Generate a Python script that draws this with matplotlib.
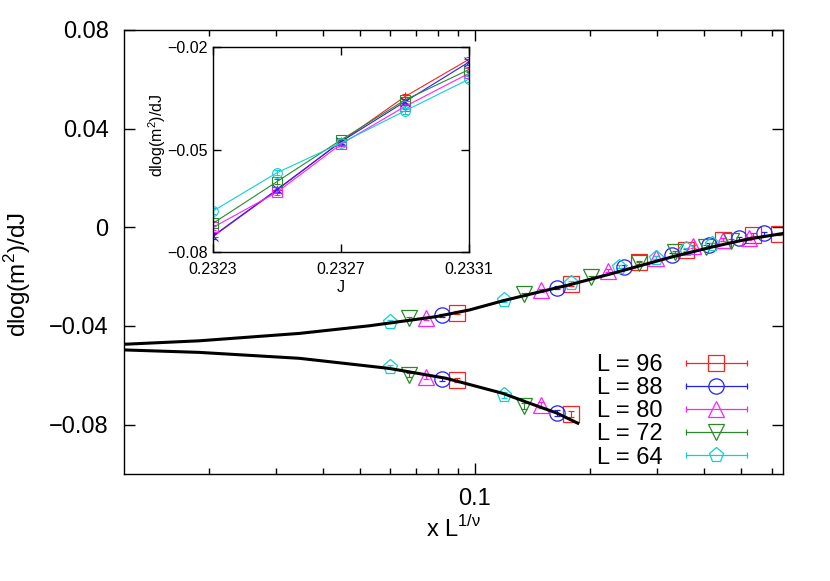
import numpy as np
import matplotlib
matplotlib.use("Agg")
import matplotlib.pyplot as plt
from matplotlib.lines import Line2D
from matplotlib.legend_handler import HandlerLine2D
from matplotlib.ticker import LogLocator, NullFormatter, FixedLocator, FixedFormatter

plt.rcParams['font.family'] = ['Liberation Sans', 'DejaVu Sans']
plt.rcParams['mathtext.fontset'] = 'custom'
plt.rcParams['mathtext.rm'] = 'Liberation Sans'
plt.rcParams['axes.linewidth'] = 1.0

# ---- datos principales (colapso) ----
L_vals = [96, 88, 80, 72, 64]
colores = ['#ff2020', '#2020ff', '#ff20ff', '#2a8a2a', '#10d0d0']
marcas = ['s', 'o', '^', 'v', 'p']

x_sup = {
    96: [0.0896, 0.1791, 0.2687, 0.3582, 0.4478, 0.5373, 0.6269],
    88: [0.0821, 0.1642, 0.2463, 0.3284, 0.4105, 0.4926, 0.5746],
    80: [0.0746, 0.1493, 0.2239, 0.2985, 0.3731, 0.4478, 0.5224],
    72: [0.0672, 0.1344, 0.2015, 0.2687, 0.3358, 0.4030, 0.4701],
    64: [0.0597, 0.1194, 0.1791, 0.2388, 0.2985, 0.3582, 0.4179],
}
y_sup = {
    96: [-0.0346, -0.0231, -0.0141, -0.0092, -0.0051, -0.0031, -0.0027],
    88: [-0.0357, -0.0244, -0.0160, -0.0112, -0.0070, -0.0044, -0.0024],
    80: [-0.0369, -0.0256, -0.0176, -0.0124, -0.0076, -0.0051, -0.0044],
    72: [-0.0369, -0.0271, -0.0203, -0.0145, -0.0100, -0.0079, -0.0054],
    64: [-0.0383, -0.0295, -0.0224, -0.0160, -0.0124, -0.0088, -0.0068],
}
e_sup = [0.0006, 0.0006, 0.0006, 0.0006, 0.0006, 0.0006, 0.0006]

x_inf = {
    96: [0.0896, 0.1791],
    88: [0.0821, 0.1642],
    80: [0.0746, 0.1493],
    72: [0.0672, 0.1344],
    64: [0.0597, 0.1194],
}
y_inf = {
    96: [-0.0619, -0.0757],
    88: [-0.0615, -0.0754],
    80: [-0.0608, -0.0720],
    72: [-0.0599, -0.0724],
    64: [-0.0565, -0.0680],
}
e_inf = [0.0008, 0.0012]

# curvas de ajuste
curva_sup_x = [0.01202, 0.01892, 0.03463, 0.0529, 0.0791, 0.0967, 0.1183, 0.1447, 0.177,
               0.2254, 0.3305, 0.4208, 0.5150, 0.643]
curva_sup_y = [-0.0474, -0.0460, -0.0430, -0.0399, -0.0362, -0.0335, -0.0298, -0.0265, -0.0233,
               -0.0190, -0.0119, -0.0079, -0.0049, -0.0025]
curva_inf_x = [0.01202, 0.01892, 0.03463, 0.05965, 0.0840, 0.1183, 0.1390, 0.1634, 0.1861]
curva_inf_y = [-0.0497, -0.0507, -0.0531, -0.0572, -0.0612, -0.0673, -0.0713, -0.0752, -0.0794]

# ---- datos del inset ----
J = [0.2323, 0.2325, 0.2327, 0.2329, 0.2331]
marcas_in = ['+', 'x', 's', 's', 'o']
y_in = {
    96: [-0.0755, -0.0619, -0.0477, -0.0345, -0.0236],
    88: [-0.0753, -0.0617, -0.0477, -0.0360, -0.0244],
    80: [-0.0728, -0.0625, -0.0484, -0.0374, -0.0277],
    72: [-0.0716, -0.0594, -0.0472, -0.0355, -0.0266],
    64: [-0.0680, -0.0568, -0.0481, -0.0387, -0.0294],
}
e_in = [0.0008, 0.0008, 0.0006, 0.0008, 0.0008]

etiqueta_y = 'dlog(m$^{\\mathregular{2}}$)/dJ'
etiqueta_x = 'x L$^{\\mathregular{1/\u03bd}}$'

fig = plt.figure(figsize=(8.3, 5.81), dpi=100)
ax = fig.add_axes([124/830, 1-474/581, 659/830, 444/581])

handles = []
for L, c, m in zip(L_vals, colores, marcas):
    ax.errorbar(x_sup[L], y_sup[L], yerr=e_sup, fmt=m, mfc='none', mec=c, ecolor=c,
                ms=11, mew=0.9, elinewidth=0.8, capsize=2.5, capthick=0.8)
    ax.errorbar(x_inf[L], y_inf[L], yerr=e_inf, fmt=m, mfc='none', mec=c, ecolor=c,
                ms=11, mew=0.9, elinewidth=0.8, capsize=2.5, capthick=0.8)
    barra = Line2D([], [], color=c, lw=0.9, marker='|', ms=5, mew=0.9)
    punto = Line2D([], [], color=c, lw=0, marker=m, ms=11, mfc='none', mew=0.9)
    handles.append((barra, punto))

ax.plot(curva_sup_x, curva_sup_y, color='k', lw=2.2, zorder=5)
ax.plot(curva_inf_x, curva_inf_y, color='k', lw=2.2, zorder=5)

ax.set_xscale('log')
ax.set_xlim(0.012, 0.643)
ax.set_ylim(-0.1, 0.08)
ax.xaxis.set_major_locator(FixedLocator([0.1]))
ax.xaxis.set_major_formatter(FixedFormatter(['0.1']))
ax.xaxis.set_minor_locator(LogLocator(base=10, subs=np.arange(2, 10)))
ax.xaxis.set_minor_formatter(NullFormatter())
ax.set_yticks([-0.08, -0.04, 0, 0.04, 0.08])
ax.set_yticklabels(['\u22120.08', '\u22120.04', '0', '0.04', '0.08'])
ax.tick_params(which='major', direction='in', top=True, right=True, length=8, width=1, labelsize=17)
ax.tick_params(which='minor', direction='in', top=True, right=True, length=4, width=1)
ax.tick_params(axis='y', pad=11)
ax.tick_params(axis='x', pad=10)

ax.set_xlabel(etiqueta_x, fontsize=17)
ax.set_ylabel(etiqueta_y, fontsize=17.5)
ax.xaxis.set_label_coords(0.5, -0.095)
ax.yaxis.set_label_coords(-0.138, 0.45)

labels = ['L = %d' % L for L in L_vals]
hmap = {}
for b, p in handles:
    hmap[b] = HandlerLine2D(numpoints=2)
    hmap[p] = HandlerLine2D(numpoints=1)
leg = ax.legend(handles, labels, handler_map=hmap, loc='lower right',
                bbox_to_anchor=((754-124)/659, 0.012), bbox_transform=ax.transAxes,
                frameon=False, markerfirst=False, fontsize=17, handlelength=3.2,
                handletextpad=0.68, labelspacing=0.05, borderpad=0, borderaxespad=0)

# ---- inset ----
ax2 = fig.add_axes([213/830, 1-252/581, 256/830, 205/581])
for L, c, m in zip(L_vals, colores, marcas_in):
    ax2.errorbar(J, y_in[L], yerr=e_in, marker=m, color=c, mfc='none', mec=c, ecolor=c,
                 ms=7, mew=0.8, lw=0.8, elinewidth=0.7, capsize=2, capthick=0.7)
ax2.set_xlim(0.2323, 0.2331)
ax2.set_ylim(-0.08, -0.02)
ax2.set_xticks([0.2323, 0.2327, 0.2331])
ax2.set_xticklabels(['0.2323', '0.2327', '0.2331'])
ax2.set_yticks([-0.08, -0.05, -0.02])
ax2.set_yticklabels(['\u22120.08', '\u22120.05', '\u22120.02'])
ax2.tick_params(direction='in', top=True, right=True, length=6, width=1, labelsize=11.5, pad=4)
ax2.tick_params(axis='x', pad=7)
ax2.set_xlabel('J', fontsize=11.5)
ax2.set_ylabel(etiqueta_y, fontsize=11.5)
ax2.xaxis.set_label_coords(0.5, -0.135)
ax2.yaxis.set_label_coords(-0.176, 0.571)

fig.savefig('out.png', dpi=100)
